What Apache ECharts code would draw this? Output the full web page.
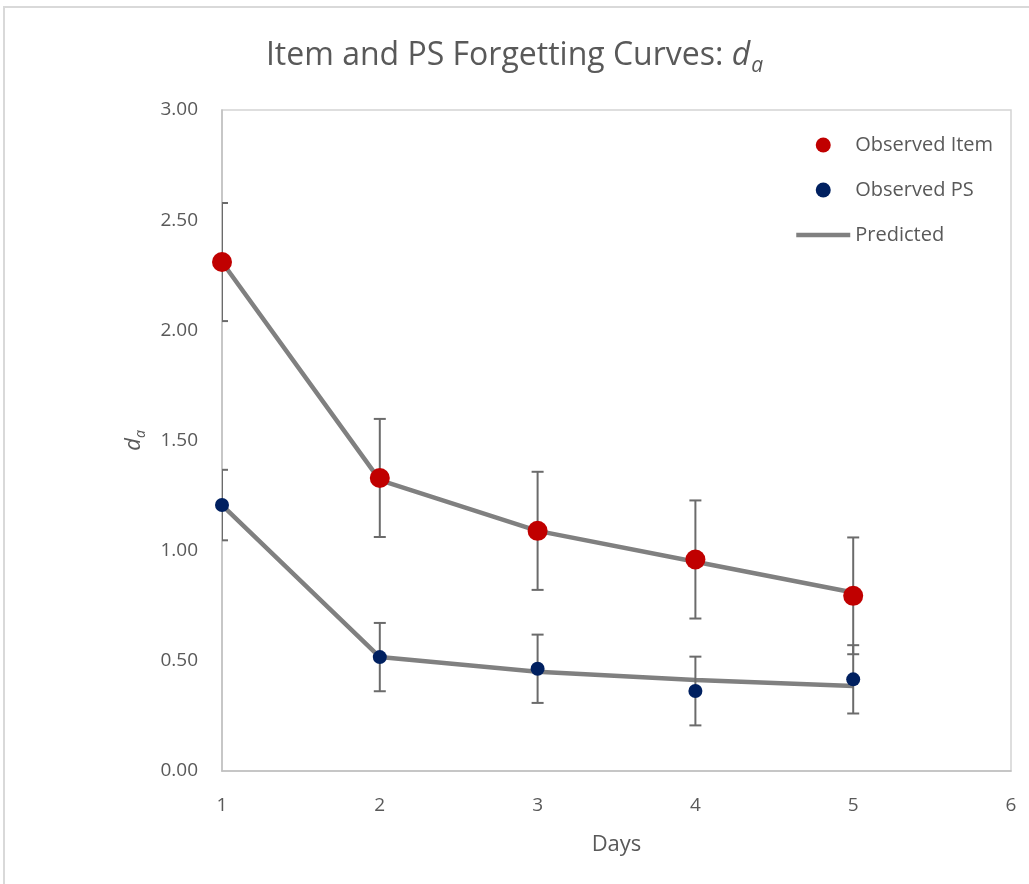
<!DOCTYPE html>
<html>
<head>
<meta charset="utf-8">
<script src="https://cdn.jsdelivr.net/npm/echarts@6/dist/echarts.min.js"></script>
<style>html,body{margin:0;padding:0;background:#fff;}#c{width:1029px;height:884px;}</style>
</head>
<body>
<div id="c"></div>
<script>
const days = [1, 2, 3, 4, 5];
const itemObs = [2.31, 1.33, 1.09, 0.96, 0.795];
const itemErr = [0.268, 0.268, 0.268, 0.268, 0.265];
const psObs = [1.207, 0.517, 0.464, 0.363, 0.416];
const psErr = [0.16, 0.155, 0.155, 0.156, 0.155];
const itemPred = [2.31, 1.32, 1.09, 0.95, 0.81];
const psPred = [1.207, 0.517, 0.45, 0.413, 0.386];
const yTicks = ['0.00', '0.50', '1.00', '1.50', '2.00', '2.50', '3.00'];

const FONT = 'Open Sans';
const TXT = '#595959';

function pairs(xs, ys) { return xs.map((x, i) => [x, ys[i]]); }
function errData(xs, ys, es) { return xs.map((x, i) => [x, ys[i] - es[i], ys[i] + es[i]]); }

function renderErr(params, api) {
  const x = api.value(0);
  const lo = api.coord([x, api.value(1)]);
  const hi = api.coord([x, api.value(2)]);
  const hw = 6;
  const style = { stroke: '#6b6b6b', lineWidth: 2 };
  return {
    type: 'group',
    children: [
      { type: 'line', shape: { x1: lo[0], y1: lo[1], x2: hi[0], y2: hi[1] }, style },
      { type: 'line', shape: { x1: lo[0] - hw, y1: lo[1], x2: lo[0] + hw, y2: lo[1] }, style },
      { type: 'line', shape: { x1: hi[0] - hw, y1: hi[1], x2: hi[0] + hw, y2: hi[1] }, style }
    ]
  };
}

const chart = echarts.init(document.getElementById('c'), null, { renderer: 'canvas' });
chart.setOption({
  animation: false,
  backgroundColor: '#fff',
  textStyle: { fontFamily: FONT },
  graphic: [{
    type: 'rect', silent: true,
    shape: { x: 4, y: 7, width: 1100, height: 1000 },
    style: { fill: 'none', stroke: '#d9d9d9', lineWidth: 2 }
  }],
  title: {
    text: 'Item and PS Forgetting Curves: {d|d}{a|a}',
    left: 'center',
    top: 30,
    padding: [5, 5, 5, 33],
    textStyle: {
      fontFamily: FONT, fontSize: 32, fontWeight: 'normal', color: TXT,
      lineHeight: 42,
      rich: {
        d: { fontFamily: FONT, fontSize: 32, fontStyle: 'italic', color: TXT, lineHeight: 42 },
        a: { fontFamily: FONT, fontSize: 21, fontStyle: 'italic', color: TXT, lineHeight: 42, verticalAlign: 'bottom', padding: [14, 0, 0, 1] }
      }
    }
  },
  legend: {
    orient: 'vertical',
    left: 789,
    top: 130,
    itemWidth: 54,
    itemHeight: 15,
    itemGap: 25,
    textStyle: { fontFamily: FONT, fontSize: 20, color: TXT, lineHeight: 15 },
    data: [
      'Observed Item',
      'Observed PS',
      { name: 'Predicted', icon: 'line', itemStyle: { color: '#808080', borderColor: '#808080', borderWidth: 4.5 } }
    ]
  },
  grid: {
    left: 222, top: 110, right: 18, bottom: 113,
    show: true, borderColor: '#d4d4d4', borderWidth: 1.5, backgroundColor: 'transparent'
  },
  xAxis: {
    type: 'value', min: 1, max: 6, interval: 1,
    name: 'Days', nameLocation: 'middle', nameGap: 63,
    nameTextStyle: { fontFamily: FONT, fontSize: 22, color: TXT },
    axisLine: { show: true, lineStyle: { color: '#bfbfbf', width: 1.5 } },
    axisTick: { show: false },
    splitLine: { show: false },
    axisLabel: { fontFamily: FONT, fontSize: 19, color: TXT, margin: 25 }
  },
  yAxis: {
    type: 'value', min: 0, max: 3, interval: 0.5,
    name: '{d|d}{a|a}', nameLocation: 'middle', nameGap: 74,
    nameTextStyle: {
      fontFamily: FONT, fontSize: 22, color: TXT,
      rich: {
        d: { fontFamily: FONT, fontSize: 22, fontStyle: 'italic', color: TXT, lineHeight: 28 },
        a: { fontFamily: FONT, fontSize: 14, fontStyle: 'italic', color: TXT, lineHeight: 28, verticalAlign: 'bottom', padding: [9, 0, 0, 0] }
      }
    },
    axisLine: { show: true, lineStyle: { color: '#bfbfbf', width: 1.5 } },
    axisTick: { show: false },
    splitLine: { show: false },
    axisLabel: {
      fontFamily: FONT, fontSize: 19, color: TXT, margin: 24,
      formatter: v => yTicks[Math.round(v / 0.5)]
    }
  },
  series: [
    {
      name: 'Predicted', type: 'line', data: pairs(days, itemPred),
      symbol: 'none', lineStyle: { color: '#808080', width: 4.5 }, itemStyle: { color: '#808080' }, z: 2
    },
    {
      name: 'Predicted', type: 'line', data: pairs(days, psPred),
      symbol: 'none', lineStyle: { color: '#808080', width: 4.5 }, itemStyle: { color: '#808080' }, z: 2
    },
    {
      name: 'itemErr', type: 'custom', data: errData(days, itemObs, itemErr),
      renderItem: renderErr, clip: true, z: 3, silent: true
    },
    {
      name: 'psErr', type: 'custom', data: errData(days, psObs, psErr),
      renderItem: renderErr, clip: true, z: 3, silent: true
    },
    {
      name: 'Observed Item', type: 'scatter', data: pairs(days, itemObs),
      symbol: 'circle', symbolSize: 20, itemStyle: { color: '#C00000', opacity: 1 }, z: 4
    },
    {
      name: 'Observed PS', type: 'scatter', data: pairs(days, psObs),
      symbol: 'circle', symbolSize: 14, itemStyle: { color: '#002060', opacity: 1 }, z: 4
    }
  ]
});
</script>
</body>
</html>
